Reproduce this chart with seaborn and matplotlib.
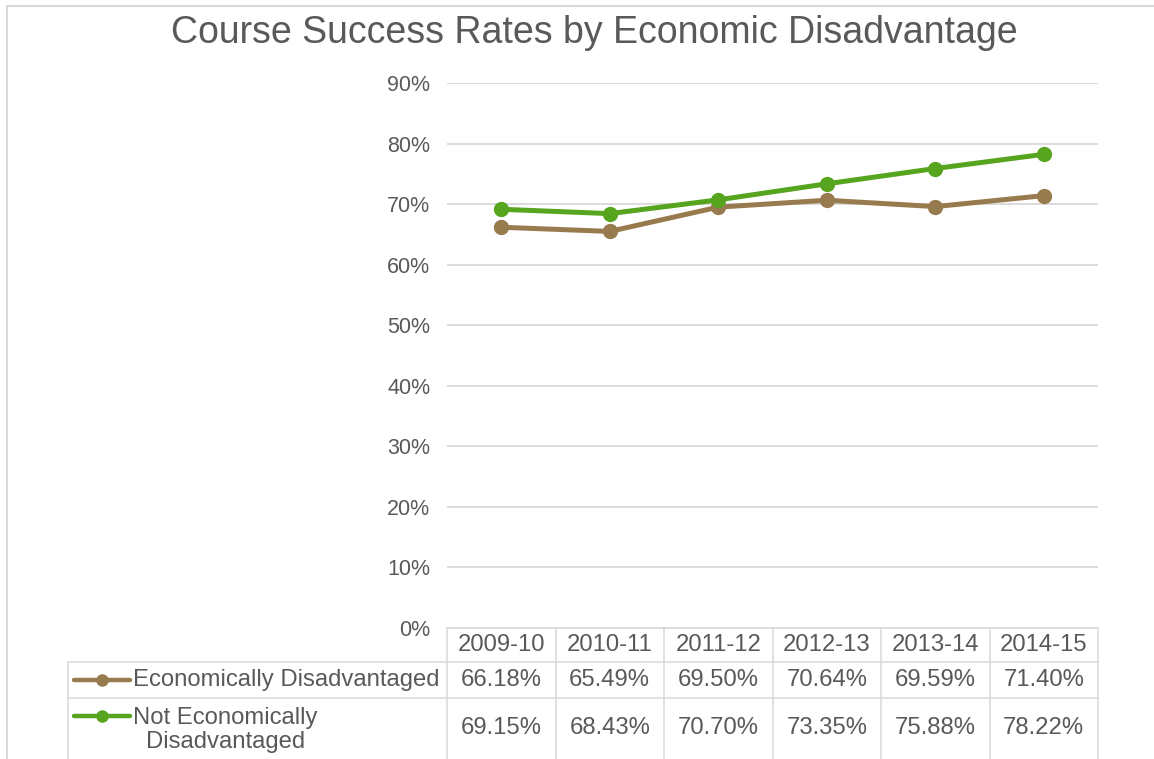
import matplotlib
matplotlib.use("Agg")
import matplotlib.pyplot as plt
import matplotlib.transforms as mtransforms
from matplotlib.lines import Line2D
from matplotlib.patches import Rectangle
import pandas as pd
import seaborn as sns

# data
years = ["2009-10", "2010-11", "2011-12", "2012-13", "2013-14", "2014-15"]
econ_dis = [66.18, 65.49, 69.50, 70.64, 69.59, 71.40]
not_econ_dis = [69.15, 68.43, 70.70, 73.35, 75.88, 78.22]
series_names = ["Economically Disadvantaged", "Not Economically\nDisadvantaged"]
series_colors = ["#977A4D", "#57A51F"]
y_ticks = [0, 10, 20, 30, 40, 50, 60, 70, 80, 90]

TEXT = "#595959"
GRID = "#d9d9d9"
W, H = 1154, 759
TAB_FS = 17.2

sns.set_theme(style="white")
plt.rcParams["font.family"] = ["Liberation Sans", "DejaVu Sans"]

df = pd.DataFrame({
    "x": list(range(len(years))) * 2,
    "rate": econ_dis + not_econ_dis,
    "series": [series_names[0]] * len(years) + [series_names[1]] * len(years),
})

fig = plt.figure(figsize=(W / 100, H / 100), dpi=100)
ax = fig.add_axes([447 / W, 131 / H, 651 / W, 545 / H])

sns.lineplot(data=df, x="x", y="rate", hue="series", palette=series_colors,
             marker="o", markersize=11, markeredgewidth=0, linewidth=3.6,
             sort=False, legend=False, ax=ax)

ax.set_xlim(-0.5, len(years) - 0.5)
ax.set_ylim(0, 90)
ax.set_yticks(y_ticks)
ax.set_yticklabels([f"{t}%" for t in y_ticks], color=TEXT, fontsize=15.5)
ax.tick_params(axis="y", length=0, pad=12)
ax.set_xticks([])
ax.set_xlabel("")
ax.set_ylabel("")
ax.yaxis.grid(True, color=GRID, linewidth=1.3)
for s in ax.spines.values():
    s.set_visible(False)

fig.text(594 / W, 1 - 33 / H, "Course Success Rates by Economic Disadvantage",
         ha="center", va="center", fontsize=27, color=TEXT)

# chart frame
fig.add_artist(Rectangle((7 / W, -0.05), 1.1, 1 - 6 / H + 0.05,
                         transform=fig.transFigure, fill=False,
                         edgecolor=GRID, linewidth=1.5))

# data table under the axis
def fy(py):
    return 1 - py / H

def fx(px):
    return px / W

blend = mtransforms.blended_transform_factory(ax.transData, fig.transFigure)
lw_tab = 1.1
n = len(years)

# horizontal rules
fig.add_artist(Line2D([-0.5, n - 0.5], [fy(628), fy(628)], transform=blend,
                      color=GRID, lw=lw_tab))
for py in [662, 698]:
    fig.add_artist(Line2D([fx(68), fx(1098)], [fy(py), fy(py)],
                          transform=fig.transFigure, color=GRID, lw=lw_tab))
# vertical rules
for i in range(n + 1):
    fig.add_artist(Line2D([i - 0.5, i - 0.5], [fy(628), fy(770)], transform=blend,
                          color=GRID, lw=lw_tab))
fig.add_artist(Line2D([fx(68), fx(68)], [fy(662), fy(770)],
                      transform=fig.transFigure, color=GRID, lw=lw_tab))

for i, yr in enumerate(years):
    fig.text(i, fy(645), yr, transform=blend, ha="center", va="center",
             fontsize=TAB_FS, color=TEXT)
    fig.text(i, fy(680), f"{econ_dis[i]:.2f}%", transform=blend, ha="center",
             va="center", fontsize=TAB_FS, color=TEXT)
    fig.text(i, fy(728), f"{not_econ_dis[i]:.2f}%", transform=blend, ha="center",
             va="center", fontsize=TAB_FS, color=TEXT)

# row labels with legend keys
label_y = [680, 730]
key_y = [680, 716]
for name, color, ly, ky in zip(series_names, series_colors, label_y, key_y):
    fig.add_artist(Line2D([fx(74), fx(130)], [fy(ky), fy(ky)],
                          transform=fig.transFigure, color=color, lw=3.2,
                          solid_capstyle="round"))
    fig.add_artist(Line2D([fx(102)], [fy(ky)], transform=fig.transFigure,
                          marker="o", markersize=9, markeredgewidth=0,
                          color=color, linestyle="none"))
    fig.text(fx(133), fy(ly), name, ha="left", va="center", fontsize=TAB_FS,
             color=TEXT, multialignment="center", linespacing=1.15)

fig.savefig("out.png", dpi=100)
